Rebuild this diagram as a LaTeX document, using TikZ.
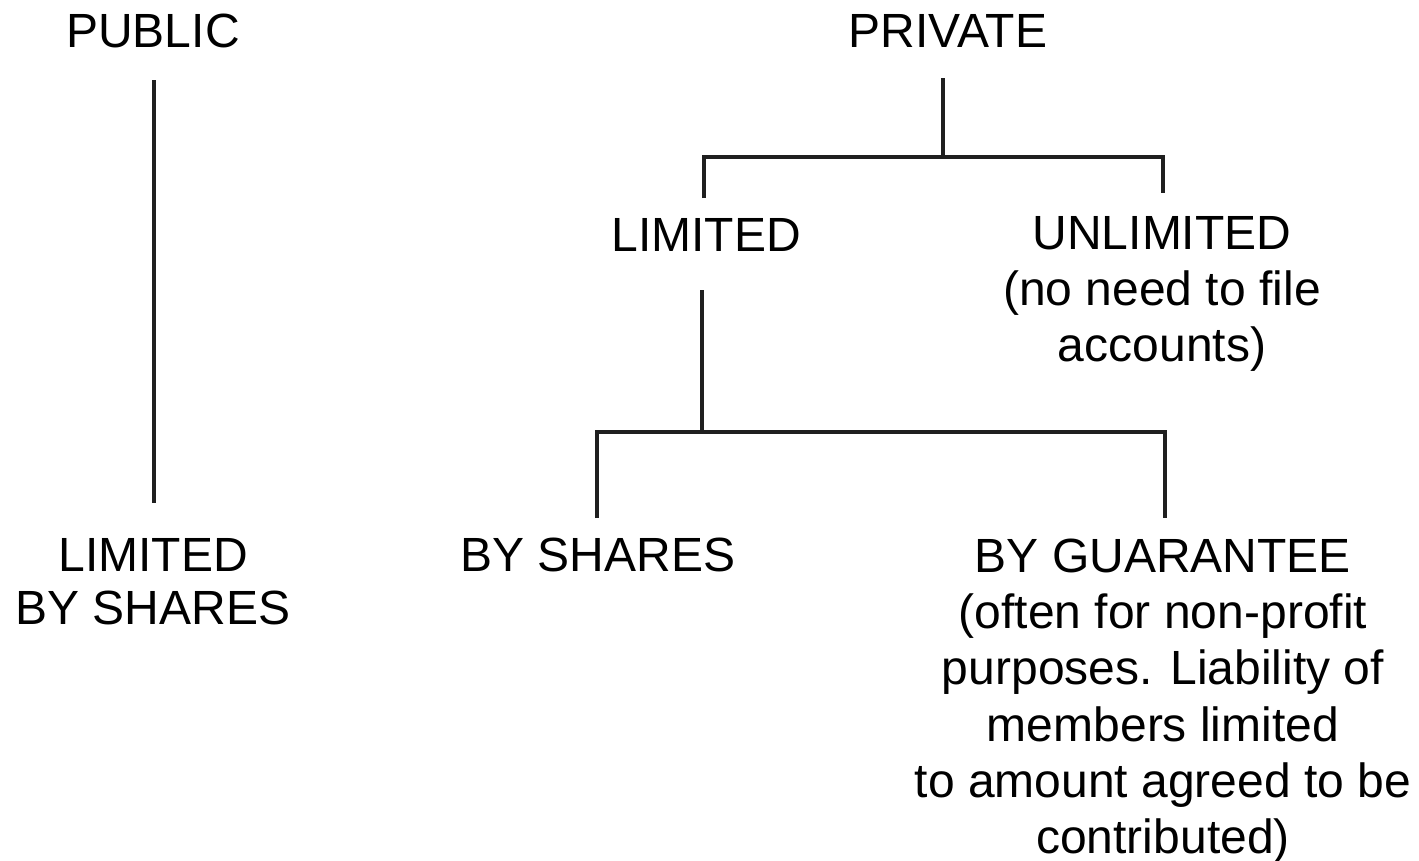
\documentclass[tikz,border=0pt]{standalone}
\usepackage{fontspec}
\setmainfont{Liberation Sans}
\begin{document}
\begin{tikzpicture}[x=1pt,y=-1pt,
  lbl/.style={inner sep=0pt,outer sep=0pt,align=center,font=\fontsize{48}{56.2}\selectfont},
  conn/.style={draw=black!88,line width=3.5pt}]
\useasboundingbox (0,0) rectangle (1419,860);
% nodes
\node[lbl,anchor=base] (pub) at (153,47) {PUBLIC};
\node[lbl,anchor=base] (priv) at (948,47) {PRIVATE};
\node[lbl,anchor=base] (lim) at (706,251) {LIMITED};
\node[lbl,anchor=north] (unl) at (1162,216) {UNLIMITED\\(no need to file\\accounts)};
\node[lbl,anchor=north,font=\fontsize{48}{53.5}\selectfont] (lbs) at (153,538) {LIMITED\\BY SHARES};
\node[lbl,anchor=base] (bys) at (598,571) {BY SHARES};
\node[lbl,anchor=north] (byg) at (1163,539) {BY GUARANTEE\\(often for non-profit\\purposes. Liability of\\members limited\\to amount agreed to be\\contributed)};
% junction coordinates
\coordinate (pubtop) at (154,80);
\coordinate (pubbot) at (154,503);
\coordinate (privtop) at (943,78);
\coordinate (j1) at (943,157);
\coordinate (limin) at (704,198);
\coordinate (unlin) at (1163,193);
\coordinate (limtop) at (702,290);
\coordinate (j2) at (702,432);
\coordinate (bysin) at (597,518);
\coordinate (bygin) at (1165,518);
% connectors
\draw[conn] (pubtop) -- (pubbot);
\draw[conn] (privtop) -- (j1);
\draw[conn] (limin) -- (limin |- j1) -- (unlin |- j1) -- (unlin);
\draw[conn] (limtop) -- (j2);
\draw[conn] (bysin) -- (bysin |- j2) -- (bygin |- j2) -- (bygin);
\end{tikzpicture}
\end{document}
